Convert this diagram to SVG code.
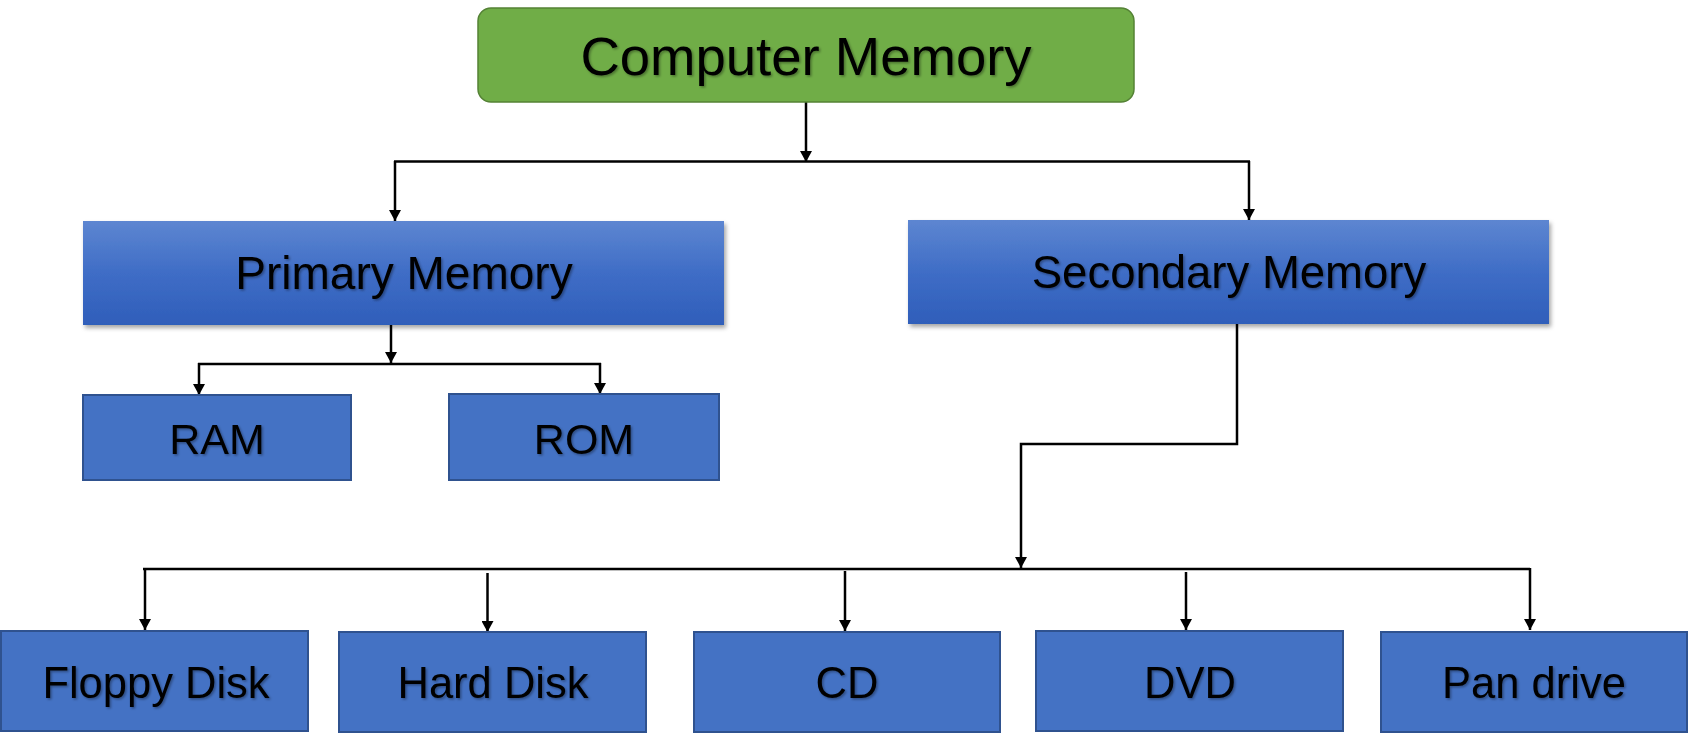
<svg xmlns="http://www.w3.org/2000/svg" width="1688" height="747" viewBox="0 0 1688 747">
<style>
  .lbl { font-family: "Liberation Sans", Arial, sans-serif; fill: #000; text-anchor: middle; filter: url(#tshadow); }
  .leaf { fill: #4472C4; stroke: #2F528F; stroke-width: 2; }
  .mid { fill: url(#blueGrad); filter: url(#boxshadow); }
  .conn { fill: none; stroke: #000; stroke-width: 2.5; }
  .arr { marker-end: url(#ah); }
</style>
<defs>
  <linearGradient id="blueGrad" x1="0" y1="0" x2="0" y2="1">
    <stop offset="0" stop-color="#5D86D1"/>
    <stop offset="0.5" stop-color="#3F6DC6"/>
    <stop offset="1" stop-color="#2F5EBA"/>
  </linearGradient>
  <filter id="boxshadow" x="-5%" y="-10%" width="110%" height="125%">
    <feDropShadow dx="2" dy="3" stdDeviation="2" flood-color="#000" flood-opacity="0.35"/>
  </filter>
  <filter id="tshadow" x="-5%" y="-20%" width="110%" height="140%">
    <feDropShadow dx="1.5" dy="1.5" stdDeviation="1" flood-color="#000" flood-opacity="0.35"/>
  </filter>
  <marker id="ah" viewBox="0 0 11 12" refX="11" refY="6" markerWidth="11" markerHeight="12" orient="auto" markerUnits="userSpaceOnUse">
    <path d="M0,0 L11,6 L0,12 z" fill="#000"/>
  </marker>
</defs>

<g id="connectors">
  <line class="conn arr" x1="806" y1="102" x2="806" y2="162"/>
  <line class="conn" x1="394" y1="161.5" x2="1250" y2="161.5" stroke-width="3"/>
  <line class="conn arr" x1="395" y1="161" x2="395" y2="221"/>
  <line class="conn arr" x1="1249" y1="161" x2="1249" y2="220"/>

  <line class="conn arr" x1="391" y1="325" x2="391" y2="363"/>
  <line class="conn" x1="198" y1="364" x2="601" y2="364" stroke-width="3"/>
  <line class="conn arr" x1="199" y1="363" x2="199" y2="395"/>
  <line class="conn arr" x1="600" y1="363" x2="600" y2="394"/>

  <polyline class="conn arr" points="1237,324 1237,444 1021,444 1021,568"/>
  <line class="conn" x1="143" y1="569" x2="1530" y2="569" stroke-width="3"/>
  <line class="conn arr" x1="145" y1="568" x2="145" y2="630"/>
  <line class="conn arr" x1="487.5" y1="573" x2="487.5" y2="632"/>
  <line class="conn arr" x1="845" y1="571" x2="845" y2="631"/>
  <line class="conn arr" x1="1186" y1="572" x2="1186" y2="630"/>
  <line class="conn arr" x1="1530" y1="568" x2="1530" y2="630"/>
</g>

<g id="computer-memory">
  <rect x="478" y="8" width="656" height="94" rx="13" ry="13" fill="#70AD47" stroke="#548235" stroke-width="1.5"/>
  <text class="lbl" x="806" y="75" font-size="54.5">Computer Memory</text>
</g>

<g id="primary-memory">
  <rect class="mid" x="83" y="221" width="641" height="104"/>
  <text class="lbl" x="404" y="289" font-size="46">Primary Memory</text>
</g>

<g id="secondary-memory">
  <rect class="mid" x="908" y="220" width="641" height="104"/>
  <text class="lbl" x="1229" y="288" font-size="45.5">Secondary Memory</text>
</g>

<g id="ram">
  <rect class="leaf" x="83" y="395" width="268" height="85"/>
  <text class="lbl" x="217" y="454" font-size="43">RAM</text>
</g>

<g id="rom">
  <rect class="leaf" x="449" y="394" width="270" height="86"/>
  <text class="lbl" x="584" y="454" font-size="43">ROM</text>
</g>

<g id="floppy-disk">
  <rect class="leaf" x="1" y="631" width="307" height="100"/>
  <text class="lbl" x="156" y="698" font-size="43.5">Floppy Disk</text>
</g>

<g id="hard-disk">
  <rect class="leaf" x="339" y="632" width="307" height="100"/>
  <text class="lbl" x="493" y="698" font-size="43.5">Hard Disk</text>
</g>

<g id="cd">
  <rect class="leaf" x="694" y="632" width="306" height="100"/>
  <text class="lbl" x="847" y="698" font-size="43.5">CD</text>
</g>

<g id="dvd">
  <rect class="leaf" x="1036" y="631" width="307" height="100"/>
  <text class="lbl" x="1190" y="698" font-size="43.5">DVD</text>
</g>

<g id="pan-drive">
  <rect class="leaf" x="1381" y="632" width="306" height="100"/>
  <text class="lbl" x="1534" y="698" font-size="43.5">Pan drive</text>
</g>
</svg>
